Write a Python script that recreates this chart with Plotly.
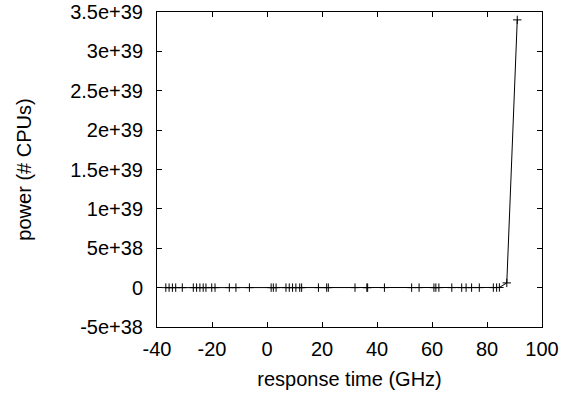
import plotly.graph_objects as go

# response time (GHz)
x_vals = [-36.8, -35.6, -34.4, -33.2, -30.8, -26.8, -25.6, -24.4, -23.2, -22.2,
          -20.1, -18.9, -13.7, -11.3, -6.4, 1.5, 2.3, 3.3, 6.9, 8.1, 9.3, 10.5,
          11.9, 12.6, 18.7, 21.7, 22.3, 32.0, 36.3, 36.6, 42.7, 52.6, 55.3, 60.7,
          61.4, 62.5, 67.2, 70.8, 72.4, 74.4, 77.2, 82.3, 83.5, 84.5, 87.2, 91.0]
# power (# CPUs)
y_vals = [0]*41 + [1e35, 5e35, 2e36, 6e37, 3.4e39]

x_tick_vals = [-40, -20, 0, 20, 40, 60, 80, 100]
x_tick_text = ["-40", "-20", "0", "20", "40", "60", "80", "100"]
y_tick_vals = [-5e38, 0, 5e38, 1e39, 1.5e39, 2e39, 2.5e39, 3e39, 3.5e39]
y_tick_text = ["-5e+38", "0", "5e+38", "1e+39", "1.5e+39", "2e+39", "2.5e+39", "3e+39", "3.5e+39"]

fig = go.Figure(go.Scatter(
    x=x_vals, y=y_vals, mode="lines+markers",
    line=dict(color="black", width=1),
    marker=dict(symbol="cross-thin", size=6, line=dict(color="black", width=1), color="black"),
    showlegend=False,
))

font = dict(family="Liberation Sans, Arial, sans-serif", size=20, color="black")
axis_common = dict(
    showgrid=False, zeroline=False, showline=True, linecolor="black", linewidth=1,
    mirror="ticks", ticks="inside", ticklen=5, tickcolor="black", tickwidth=1,
    tickfont=font, automargin=False,
)
fig.update_xaxes(range=[-40, 100], tickvals=x_tick_vals, ticktext=x_tick_text,
                 ticklabelstandoff=4,
                 title=dict(text="response time (GHz)", font=font, standoff=12), **axis_common)
fig.update_yaxes(range=[-5e38, 3.5e39], tickvals=y_tick_vals, ticktext=y_tick_text,
                 ticklabelstandoff=9,
                 title=dict(text="power (# CPUs)", font=font, standoff=33), **axis_common)
fig.update_layout(
    width=574, height=397,
    margin=dict(l=157, r=32, t=12, b=70),
    paper_bgcolor="white", plot_bgcolor="white",
    font=font,
)
fig.write_html("out.html", config={"displayModeBar": False},
               post_script="document.body.style.margin='0';")
